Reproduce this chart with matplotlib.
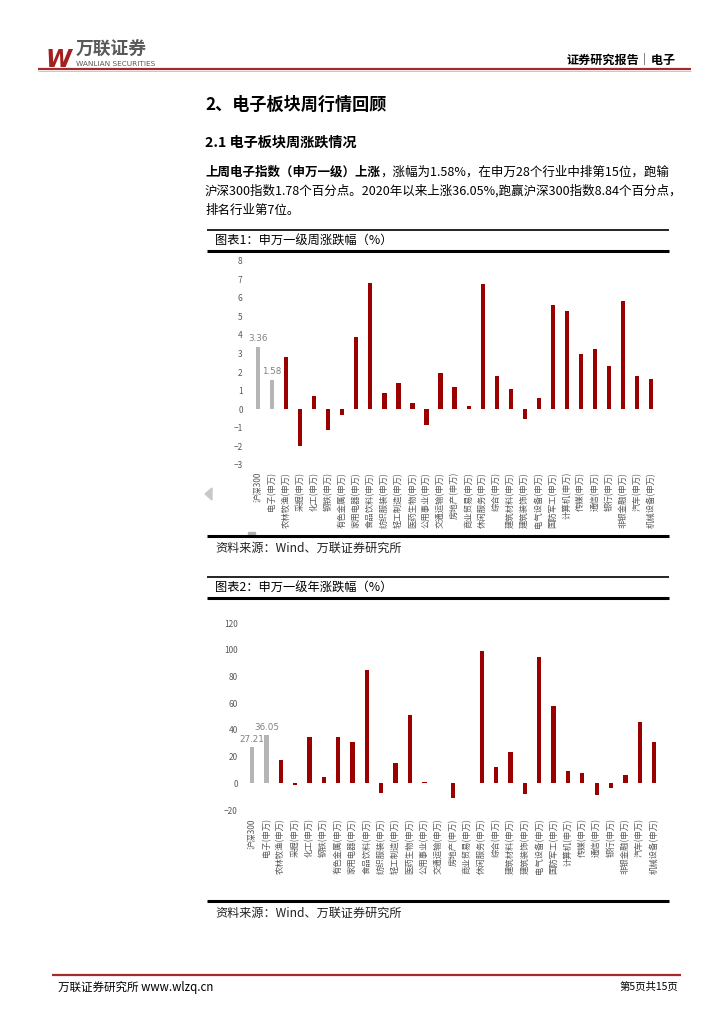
import matplotlib
matplotlib.use("Agg")
import matplotlib.pyplot as plt
from matplotlib.lines import Line2D
from matplotlib.patches import Polygon, Rectangle

plt.rcParams['font.family'] = ['Noto Sans CJK SC', 'DejaVu Sans']

# ---- data ----
industries = ["沪深300", "电子(申万)", "农林牧渔(申万)", "采掘(申万)", "化工(申万)", "钢铁(申万)",
              "有色金属(申万)", "家用电器(申万)", "食品饮料(申万)", "纺织服装(申万)", "轻工制造(申万)",
              "医药生物(申万)", "公用事业(申万)", "交通运输(申万)", "房地产(申万)", "商业贸易(申万)",
              "休闲服务(申万)", "综合(申万)", "建筑材料(申万)", "建筑装饰(申万)", "电气设备(申万)",
              "国防军工(申万)", "计算机(申万)", "传媒(申万)", "通信(申万)", "银行(申万)",
              "非银金融(申万)", "汽车(申万)", "机械设备(申万)"]
weekly_chg = [3.36, 1.58, 2.82, -1.97, 0.72, -1.11, -0.30, 3.89, 6.82, 0.86, 1.42,
              0.34, -0.83, 1.96, 1.18, 0.20, 6.74, 1.78, 1.09, -0.50, 0.63,
              5.61, 5.27, 2.98, 3.26, 2.33, 5.83, 1.78, 1.61]
annual_chg = [27.21, 36.05, 17.5, -1.0, 34.8, 4.7, 34.8, 30.8, 85.0, -6.9, 15.0,
              51.3, 1.0, 0.5, -11.1, 0.3, 99.5, 12.0, 23.3, -7.9, 94.5,
              57.8, 9.1, 7.7, -8.4, -3.5, 5.9, 45.8, 30.8]
weekly_ticks = list(range(-3, 9))
annual_ticks = list(range(-20, 121, 20))
highlight = 2   # first two bars (index + electronics) in grey

RED = "#9b0000"
GREY = "#b5b5b5"
TICK = "#595959"

W, H = 724, 1024
fx = lambda x: x / W
fy = lambda y: 1 - y / H

fig = plt.figure(figsize=(7.24, 10.24), dpi=100)
bg = fig.add_axes([0, 0, 1, 1])
bg.axis("off")
bg.set_xlim(0, 1)
bg.set_ylim(0, 1)


def hline(y, x0, x1, lw, color="black"):
    bg.add_line(Line2D([fx(x0), fx(x1)], [fy(y), fy(y)], lw=lw, color=color,
                       solid_capstyle="butt"))


# ---- page header ----
bg.text(fx(45), fy(67), "W", fontsize=17, fontweight="bold", style="italic",
        color="#a3201f", family="DejaVu Sans", va="baseline")
bg.text(fx(76), fy(50), "万联证券", fontsize=12.8, fontweight="bold", color="#595959",
        va="center")
bg.text(fx(76), fy(64.5), "WANLIAN SECURITIES", fontsize=5.3, color="#595959",
        family="DejaVu Sans", va="center")
bg.text(fx(676), fy(60), "证券研究报告│电子", fontsize=8.7, fontweight="bold",
        ha="right", va="center")
hline(69, 38, 691, 1.6, "#a52a2a")
hline(70.6, 38, 691, 0.6, "#bdbdbd")

# ---- headings / paragraph ----
bg.text(fx(205), fy(105), "2、电子板块周行情回顾", fontsize=12.3, fontweight="bold", va="center")
bg.text(fx(205), fy(143), "2.1 电子板块周涨跌情况", fontsize=10.2, fontweight="bold", va="center")
t1 = bg.text(fx(205), fy(172), "上周电子指数（申万一级）上涨", fontsize=9,
             fontweight="bold", va="center")
bg.annotate("，涨幅为1.58%，在申万28个行业中排第15位，跑输", xy=(1, 0.5), xycoords=t1,
            fontsize=9, va="center")
bg.text(fx(205), fy(191), "沪深300指数1.78个百分点。2020年以来上涨36.05%,跑赢沪深300指数8.84个百分点，",
        fontsize=9, va="center")
bg.text(fx(205), fy(210), "排名行业第7位。", fontsize=9, va="center")


def chart_frame(top, title, bottom):
    hline(top, 207, 669, 1.2)
    bg.text(fx(215), fy(top + 11), title, fontsize=8.8, va="center")
    hline(top + 21, 207, 669, 2.2)
    hline(bottom, 207, 669, 2.2)
    bg.text(fx(215), fy(bottom + 12), "资料来源：Wind、万联证券研究所", fontsize=8.7,
            va="center", color="#222222")


chart_frame(230, "图表1：申万一级周涨跌幅（%）", 536)
chart_frame(577, "图表2：申万一级年涨跌幅（%）", 901)


def bar_chart(rect, values, ticks, ylim, labpad, ypad):
    ax = fig.add_axes(rect)
    x = range(len(industries))
    colors = [GREY if i < highlight else RED for i in x]
    ax.bar(x, values, width=0.3, color=colors)
    for i in range(highlight):
        ax.annotate(f"{values[i]:.2f}", (i, values[i]), xytext=(0, 2.5),
                    textcoords="offset points", ha="center", va="bottom",
                    fontsize=6.3, color="#808080", family="DejaVu Sans")
    ax.set_xlim(-0.7, len(industries) - 0.5)
    ax.set_ylim(*ylim)
    ax.set_yticks(ticks)
    ax.set_xticks(list(x))
    ax.set_xticklabels(industries, rotation=90, fontsize=6, color=TICK)
    ax.tick_params(axis="y", labelsize=6, labelcolor=TICK, length=0, pad=ypad)
    ax.tick_params(axis="x", length=0, pad=labpad)
    for s in ax.spines.values():
        s.set_visible(False)
    return ax


bar_chart([fx(248.2), fy(465), fx(658.2) - fx(248.2), fy(260.7) - fy(465)],
          weekly_chg, weekly_ticks, (-3, 8), 5, 4)
bar_chart([fx(242), fy(810), fx(661.3) - fx(242), fy(623.3) - fy(810)],
          annual_chg, annual_ticks, (-20, 120), 6, 3)

# small grey artefacts left in the original rendering
bg.add_patch(Polygon([[fx(205), fy(494)], [fx(212), fy(488)], [fx(212), fy(500)]],
                     closed=True, color="#c8c8c8"))
bg.add_patch(Rectangle((fx(248), fy(535)), fx(7), 3 / H, color="#b0b0b0"))

# ---- footer ----
hline(975, 52, 681, 1.6, "#a52a2a")
bg.text(fx(58), fy(987), "万联证券研究所 www.wlzq.cn", fontsize=8.3, va="center")
bg.text(fx(678), fy(987), "第5页共15页", fontsize=7.5, ha="right", va="center")

fig.savefig("out.png", dpi=100)
